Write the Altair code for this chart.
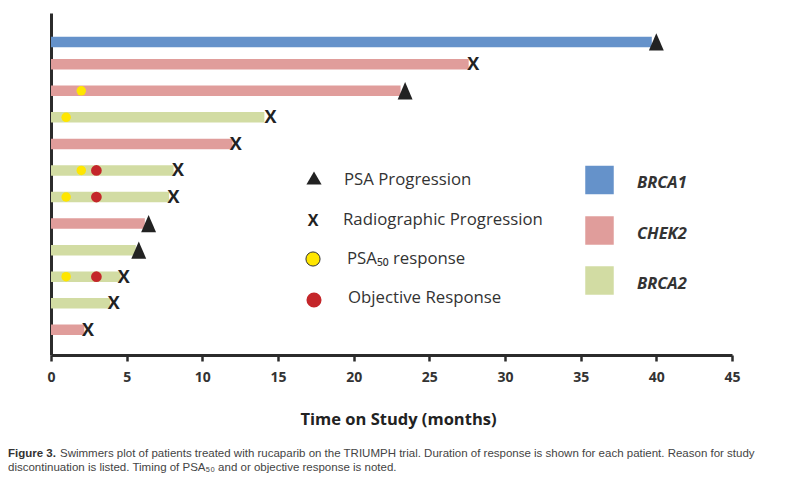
import altair as alt
import pandas as pd

# ---- data (top row first) ----
genes = ["BRCA1", "CHEK2", "CHEK2", "BRCA2", "CHEK2", "BRCA2",
         "BRCA2", "CHEK2", "BRCA2", "BRCA2", "BRCA2", "CHEK2"]
row_pos = [11.84, 11, 10, 9, 8, 7, 6, 5, 4, 3, 2, 1]
duration = [39.7, 27.6, 23.1, 14.1, 12.0, 8.1, 7.8, 6.2, 5.6, 4.6, 3.9, 2.2]
stop_reason = ["PSA", "Radio", "PSA", "Radio", "Radio", "Radio",
               "Radio", "PSA", "PSA", "Radio", "Radio", "Radio"]
stop_time = [40.0, 27.9, 23.4, 14.5, 12.2, 8.4, 8.1, 6.45, 5.8, 4.8, 4.15, 2.45]
psa50_time = [None, None, 2.0, 1.0, None, 2.0, 1.0, None, None, 1.0, None, None]
objective_time = [None, None, None, None, None, 3.0, 3.0, None, None, 3.0, None, None]

gene_domain = ["BRCA1", "CHEK2", "BRCA2"]
gene_colors = ["#6592CA", "#E09D9B", "#D2DCA3"]
x_ticks = [0, 5, 10, 15, 20, 25, 30, 35, 40, 45]
event_labels = ["PSA Progression", "Radiographic Progression", "PSA\u2085\u2080 response", "Objective Response"]
caption_bold = "Figure 3."
caption_line1 = ("Swimmers plot of patients treated with rucaparib on the TRIUMPH trial. Duration of response "
                 "is shown for each patient. Reason for study")
caption_line2 = "discontinuation is listed. Timing of PSA\u2085\u2080 and or objective response is noted."

DARK = "#2b2b2b"
FONT = "Open Sans"

x_axis = alt.Axis(values=x_ticks, title="Time on Study (months)", grid=False,
                  labelFont=FONT, labelFontSize=14, labelFontWeight="bold", labelColor="#333",
                  labelPadding=9, tickSize=6, tickWidth=2.5, tickColor=DARK,
                  domainColor=DARK, domainWidth=3, labelFlush=False,
                  titleFont=FONT, titleFontSize=16.5, titleFontWeight="bold", titleColor="#222",
                  titlePadding=27, titleX=347)
x_scale = alt.Scale(domain=[0, 45], nice=False, zero=True)
y_scale = alt.Scale(domain=[0.24, 12.74], nice=False, zero=False)
y_axis = alt.Axis(domain=True, ticks=False, labels=False, grid=False, title=None,
                  domainColor=DARK, domainWidth=3)


def X(field):
    return alt.X(field, type="quantitative", scale=x_scale, axis=x_axis, title="Time on Study (months)")


def Y(field):
    return alt.Y(field, type="quantitative", scale=y_scale, axis=y_axis)


bars_df = pd.DataFrame({"x": duration, "y": row_pos, "gene": genes})
bars = alt.Chart(bars_df).mark_bar(orient="horizontal", size=10.5).encode(
    x=X("x"), y=Y("y"),
    color=alt.Color("gene:N", scale=alt.Scale(domain=gene_domain, range=gene_colors), legend=None),
)

psa_df = pd.DataFrame({"x": psa50_time, "y": row_pos}).dropna()
psa = alt.Chart(psa_df).mark_point(shape="circle", filled=True, size=90, color="#FFE600", opacity=1).encode(
    x=X("x"), y=Y("y"))

obj_df = pd.DataFrame({"x": objective_time, "y": row_pos}).dropna()
obj = alt.Chart(obj_df).mark_point(shape="circle", filled=True, size=115, color="#C4262A", opacity=1).encode(
    x=X("x"), y=Y("y"))

stop_df = pd.DataFrame({"x": stop_time, "y": row_pos, "reason": stop_reason})
TRI = "M0,-1L0.86,1L-0.86,1Z"
tri = alt.Chart(stop_df).transform_filter(alt.datum.reason == "PSA").mark_point(
    shape=TRI, filled=True, size=300, color="#222", opacity=1).encode(x=X("x"), y=Y("y"))
xs = alt.Chart(stop_df).transform_filter(alt.datum.reason == "Radio").mark_text(
    text="X", font=FONT, fontWeight="bold", fontSize=18, color="#222", baseline="middle", align="center", dy=1
).encode(x=X("x"), y=Y("y"))


def one(label):
    return alt.Chart(pd.DataFrame({"label": [label]}))


def txt(label, x, y, align="left", **kw):
    return one(label).mark_text(align=align, baseline="middle", **kw).encode(
        x=alt.value(x), y=alt.value(y), text="label:N")


# legend (pixel positions relative to the plot area)
leg = [
    one("tri").mark_point(shape="triangle-up", filled=True, size=230, color="#222", opacity=1).encode(
        x=alt.value(263), y=alt.value(165)),
    txt("X", 262, 208, align="center", font=FONT, fontWeight="bold", fontSize=16, color="#222"),
    one("y").mark_point(shape="circle", filled=True, size=200, color="#FFE600", stroke="#333",
                         strokeWidth=1, opacity=1).encode(x=alt.value(262), y=alt.value(246)),
    one("r").mark_point(shape="circle", filled=True, size=227, color="#C4262A", opacity=1).encode(
        x=alt.value(263), y=alt.value(287)),
    txt(event_labels[0], 293, 167, font=FONT, fontSize=16.8, color="#333"),
    txt(event_labels[1], 292, 207, font=FONT, fontSize=16.8, color="#333"),
    txt(event_labels[2], 296, 246, font=FONT, fontSize=16.8, color="#333"),
    txt(event_labels[3], 297, 285, font=FONT, fontSize=16.8, color="#333"),
]
for g, col, yy in zip(gene_domain, gene_colors, [167, 217.5, 267.5]):
    leg.append(one(g).mark_square(size=812, color=col, opacity=1).encode(x=alt.value(548.5), y=alt.value(yy)))
    leg.append(txt(g, 586, yy + 3, font=FONT, fontSize=16.5, fontWeight="bold", fontStyle="italic", color="#333"))

CAP_FONT = "Liberation Sans"
cap = [
    txt(caption_bold, -43, 441, font=CAP_FONT, fontSize=11.5, fontWeight="bold", color="#333"),
    txt(caption_line1, 9, 441, font=CAP_FONT, fontSize=11.5, color="#444"),
    txt(caption_line2, -43, 455, font=CAP_FONT, fontSize=11.5, color="#444"),
]

chart = alt.layer(bars, psa, obj, tri, xs, *leg, *cap).properties(
    width=681, height=342,
    autosize=alt.AutoSizeParams(type="none"),
    padding={"left": 43, "top": 5, "right": 60, "bottom": 125},
).configure_view(stroke=None)

chart.save("out.html", embed_options={"renderer": "svg", "actions": False})
